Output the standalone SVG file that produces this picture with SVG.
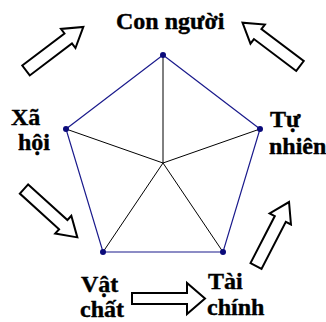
<svg xmlns="http://www.w3.org/2000/svg" width="326" height="322" viewBox="0 0 326 322">
<style>
.lbl{font-family:"Liberation Serif","Times New Roman",serif;font-weight:bold;font-size:24px;fill:#000;stroke:#000;stroke-width:0.4}
.pent{fill:none;stroke:#1a1a8c;stroke-width:1.2}
.spoke{stroke:#000;stroke-width:1}
.dot{fill:#0a0a7a}
.arr{fill:#fff;stroke:#000;stroke-width:2;stroke-linejoin:miter}
</style>
<defs>
<polygon id="blk" class="arr" points="0,-6.2 53,-6.2 53,-12 72,0 53,12 53,6.2 0,6.2"/>
</defs>
<g id="connectors">
<polygon class="pent" points="163,55 260,129 223,252 103,252 66,129"/>
<line class="spoke" x1="163" y1="163" x2="163" y2="55"/>
<line class="spoke" x1="163" y1="163" x2="260" y2="129"/>
<line class="spoke" x1="163" y1="163" x2="223" y2="252"/>
<line class="spoke" x1="163" y1="163" x2="103" y2="252"/>
<line class="spoke" x1="163" y1="163" x2="66" y2="129"/>
<use href="#blk" transform="translate(26,70.5) rotate(-37.2)"/>
<use href="#blk" transform="translate(300,66) rotate(-143)"/>
<use href="#blk" transform="translate(24,189) rotate(42.2)"/>
<use href="#blk" transform="translate(256,266) rotate(-62.7)"/>
<polygon class="arr" points="132,293 187,293 187,283 205,298.5 187,314 187,304 132,304"/>
</g>
<g id="con-nguoi">
<circle class="dot" cx="163" cy="55" r="3"/>
<text class="lbl" x="116" y="29">Con người</text>
</g>
<g id="tu-nhien">
<circle class="dot" cx="260" cy="129" r="3"/>
<text class="lbl" x="270" y="127">Tự</text>
<text class="lbl" x="269" y="154">nhiên</text>
</g>
<g id="tai-chinh">
<circle class="dot" cx="223" cy="252" r="3"/>
<text class="lbl" x="208" y="289">Tài</text>
<text class="lbl" x="207" y="315">chính</text>
</g>
<g id="vat-chat">
<circle class="dot" cx="103" cy="252" r="3"/>
<text class="lbl" x="81" y="292">Vật</text>
<text class="lbl" x="80" y="317">chất</text>
</g>
<g id="xa-hoi">
<circle class="dot" cx="66" cy="129" r="3"/>
<text class="lbl" x="11" y="125">Xã</text>
<text class="lbl" x="18" y="150">hội</text>
</g>
</svg>
